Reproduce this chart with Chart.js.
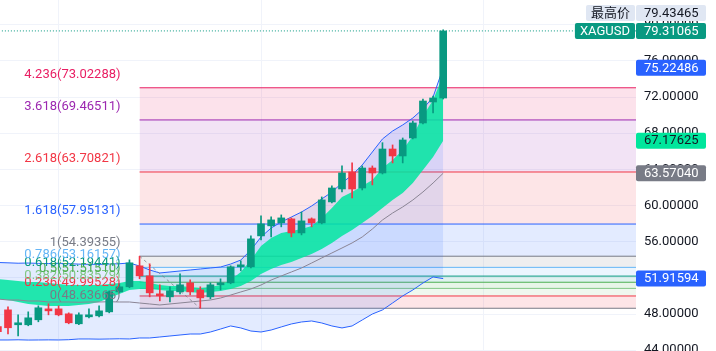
<!DOCTYPE html>
<html>
<head>
<meta charset="utf-8">
<script src="https://cdn.jsdelivr.net/npm/chart.js@4.4.0/dist/chart.umd.min.js"></script>
<style>
  html, body { margin: 0; padding: 0; background: #fff; }
</style>
</head>
<body>
<canvas id="xagChart" width="716" height="351"></canvas>
<script>
// candles, first one is only partly on screen (index -1)
const firstIndex = -1;
const opens  = [46.60, 48.46, 46.81, 46.81, 47.36, 48.57, 48.57, 48.02, 46.92, 47.69, 47.80, 48.24, 50.45, 51.01, 53.33, 52.22, 50.23, 49.90, 50.45, 51.45, 50.67, 49.90, 51.23, 51.45, 53.22, 53.22, 56.64, 57.75, 58.08, 58.52, 56.97, 58.52, 58.08, 60.40, 61.83, 63.71, 61.94, 64.15, 63.60, 66.25, 65.48, 67.47, 69.13, 71.45, 71.89];
const highs  = [46.90, 48.80, 47.91, 48.24, 48.91, 49.13, 48.91, 48.13, 48.13, 48.57, 48.91, 50.56, 51.34, 53.99, 54.39355, 53.55, 51.23, 51.01, 52.44, 51.78, 51.01, 51.45, 51.89, 53.33, 53.88, 56.64, 58.85, 58.74, 58.96, 58.63, 59.29, 58.63, 60.95, 62.17, 64.38, 64.71, 64.38, 64.38, 66.95, 66.70, 67.47, 69.35, 71.78, 72.10, 79.43465];
const lows   = [45.90, 45.81, 45.59, 46.70, 47.14, 47.91, 47.80, 46.92, 46.81, 47.58, 47.69, 48.13, 50.34, 50.90, 51.90, 49.90, 49.46, 49.35, 50.23, 50.12, 48.63665, 49.68, 50.67, 51.34, 52.77, 53.10, 56.20, 56.53, 57.64, 56.53, 56.75, 57.64, 57.97, 60.29, 61.50, 60.84, 61.72, 62.28, 63.49, 64.71, 64.71, 67.36, 69.02, 70.23, 71.78];
const closes = [46.05, 46.48, 47.03, 47.58, 48.69, 48.35, 47.91, 47.03, 47.91, 47.91, 48.35, 50.45, 51.01, 53.66, 52.22, 50.34, 50.01, 50.56, 51.23, 50.45, 49.79, 51.23, 51.45, 53.22, 53.44, 56.31, 57.97, 58.41, 58.63, 56.97, 58.30, 58.08, 60.62, 61.94, 63.60, 61.83, 64.15, 63.60, 66.25, 65.48, 67.25, 69.13, 71.56, 71.89, 79.31065];

// bollinger bands
const bbUpper  = [53.70, 53.66, 53.62, 53.64, 53.60, 53.58, 53.61, 53.57, 53.52, 53.50, 53.49, 53.53, 53.56, 53.64, 53.31, 52.87, 52.54, 52.65, 52.76, 52.87, 52.98, 53.09, 53.20, 53.53, 53.97, 55.08, 56.52, 57.51, 58.18, 58.73, 59.28, 59.95, 60.72, 61.49, 62.49, 63.38, 64.48, 65.92, 67.36, 68.24, 68.91, 69.68, 70.68, 72.00, 75.22486];
const bbMiddle = [49.66, 49.55, 49.55, 49.44, 49.44, 49.33, 49.33, 49.33, 49.30, 49.33, 49.33, 49.36, 49.33, 49.33, 49.22, 49.11, 49.00, 49.11, 49.22, 49.33, 49.44, 49.55, 49.77, 50.10, 50.44, 50.77, 51.21, 51.76, 52.21, 52.65, 53.09, 53.64, 54.20, 54.75, 55.30, 55.86, 56.52, 57.40, 58.40, 59.17, 59.84, 60.61, 61.50, 62.49, 63.57040];
const bbLower  = [45.13, 45.13, 45.15, 45.12, 45.13, 45.14, 45.13, 45.16, 45.24, 45.24, 45.22, 45.24, 45.26, 45.24, 45.35, 45.35, 45.46, 45.57, 45.68, 45.79, 45.79, 46.01, 46.34, 46.68, 46.46, 46.12, 46.01, 46.23, 46.57, 46.90, 47.12, 47.23, 47.01, 46.68, 46.46, 46.68, 47.34, 48.00, 48.45, 49.22, 50.00, 50.66, 51.43, 52.10, 51.91594];

// mint band (fast / slow)
const bandFast = [51.87, 51.76, 51.65, 51.54, 51.54, 51.43, 51.32, 51.21, 51.21, 51.21, 51.21, 51.32, 51.43, 51.65, 51.65, 51.43, 51.21, 51.10, 51.10, 50.99, 50.88, 50.99, 51.21, 51.76, 52.65, 53.97, 55.52, 56.41, 56.96, 57.18, 57.40, 57.74, 58.62, 59.73, 60.94, 61.49, 62.16, 62.82, 64.15, 65.03, 66.14, 67.69, 69.90, 71.67, 74.44];
const bandSlow = [49.66, 49.55, 49.33, 49.11, 49.00, 48.89, 48.89, 48.89, 49.00, 49.11, 49.33, 49.77, 50.21, 50.66, 50.77, 50.77, 50.66, 50.55, 50.55, 50.44, 50.33, 50.44, 50.55, 50.77, 51.10, 51.65, 52.43, 52.98, 53.42, 53.75, 54.20, 54.64, 55.19, 55.86, 56.63, 57.29, 58.07, 58.84, 59.73, 60.61, 61.38, 62.49, 63.93, 65.37, 67.17625];

// fibonacci
const fibFrom = 13, fibTo = 19;
const fibRatios = [0, 0.236, 0.382, 0.5, 0.618, 0.786, 1, 1.618, 2.618, 3.618, 4.236];
const fibPrices = [48.63665, 49.99528, 50.83579, 51.51510, 52.19441, 53.16157, 54.39355, 57.95131, 63.70821, 69.46511, 73.02288];
const fibColors = ['#787B86', '#F23645', '#81C784', '#4CAF50', '#089981', '#64B5F6', '#787B86', '#2962FF', '#F23645', '#9C27B0', '#E91E63'];

const yTicks = [44, 48, 52, 56, 60, 64, 68, 72, 76, 80];
const xGrid = [5, 25, 47];
const symbol = 'XAGUSD';
const highLabel = '最高价';

const xMin = -0.79, xMax = 62.05;
const up = '#089981', down = '#F23645';
const FONT = 'Roboto, "Noto Sans CJK SC", sans-serif';

const toRgba = (hex, a) => {
  const n = parseInt(hex.slice(1), 16);
  return `rgba(${n >> 16}, ${(n >> 8) & 255}, ${n & 255}, ${a})`;
};
const idx = opens.map((_, k) => firstIndex + k);
const series = arr => arr.map((v, k) => ({x: idx[k], y: v}));
const candleColors = opens.map((o, k) => closes[k] >= o ? up : down);
const last = closes[closes.length - 1];
const highest = Math.max(...highs);

const lineBase = {type: 'line', pointRadius: 0, borderWidth: 1, tension: 0, fill: false};
const hidden = {borderWidth: 0, borderColor: 'transparent'};

const datasets = [
  {type: 'bar', label: 'body', data: idx.map((x, k) => ({x, y: [opens[k], closes[k]]})),
   backgroundColor: candleColors, barThickness: 7, grouped: false, minBarLength: 1, order: 0},
  {type: 'bar', label: 'wick', data: idx.map((x, k) => ({x, y: [lows[k], highs[k]]})),
   backgroundColor: candleColors, barThickness: 1, grouped: false, order: 1},
  {...lineBase, label: 'last', data: [{x: xMin - 1, y: last}, {x: xMax + 5, y: last}],
   borderColor: up, borderDash: [1, 2], order: 2},
  {...lineBase, label: 'fibTrend', data: [{x: fibFrom, y: fibPrices[6]}, {x: fibTo, y: fibPrices[0]}],
   borderColor: 'rgba(120,123,134,0.75)', borderDash: [3, 3], order: 3},
  {...lineBase, label: 'bbUpper', data: series(bbUpper), borderColor: '#2962FF', order: 4},
  {...lineBase, label: 'bbMiddle', data: series(bbMiddle), borderColor: '#8A8494', order: 4},
  {...lineBase, label: 'bbLower', data: series(bbLower), borderColor: '#2962FF', order: 4},
  {...lineBase, ...hidden, label: 'fast', data: series(bandFast), order: 6},
  {...lineBase, ...hidden, label: 'slow', data: series(bandSlow), fill: '-1',
   backgroundColor: 'rgba(0,230,160,0.85)', order: 6},
  {...lineBase, ...hidden, label: 'bbBgUp', data: series(bbUpper), order: 7},
  {...lineBase, ...hidden, label: 'bbBgLow', data: series(bbLower), fill: '-1',
   backgroundColor: 'rgba(41,98,255,0.13)', order: 7}
];
fibPrices.forEach((p, i) => {
  datasets.push({...lineBase, label: 'fib ' + fibRatios[i],
    data: [{x: fibFrom, y: p}, {x: xMax + 5, y: p}],
    borderColor: fibColors[i], fill: i ? '-1' : false,
    backgroundColor: toRgba(fibColors[i], 0.13), order: 10});
});

function tag(ctx, yc, text, bg, fg, left, width, align) {
  ctx.fillStyle = bg;
  ctx.beginPath();
  ctx.roundRect(left, yc - 8, width, 16, 2);
  ctx.fill();
  ctx.fillStyle = fg;
  if (align === 'center') {
    ctx.textAlign = 'center';
    ctx.fillText(text, left + width / 2, yc + 0.5);
  } else {
    ctx.textAlign = 'left';
    ctx.fillText(text, left + 8, yc + 0.5);
  }
}

const overlay = {
  id: 'overlay',
  afterDatasetsDraw(chart) {
    const {ctx, scales: {x, y}} = chart;
    ctx.save();
    ctx.font = '13px ' + FONT;
    ctx.textAlign = 'right';
    ctx.textBaseline = 'middle';
    const right = x.getPixelForValue(fibFrom) - 19;
    fibRatios.forEach((r, i) => {
      ctx.fillStyle = fibColors[i];
      ctx.fillText(`${r}(${fibPrices[i].toFixed(5)})`, right, y.getPixelForValue(fibPrices[i]) - 13);
    });
    ctx.restore();
  },
  afterDraw(chart) {
    const {ctx, chartArea, scales: {y}} = chart;
    const axisLeft = chartArea.right;
    ctx.save();
    ctx.font = '13px ' + FONT;
    ctx.textBaseline = 'middle';
    const n = closes.length - 1;
    const pairs = [
      [bbUpper[n], '#2962FF', '#fff'],
      [bandSlow[n], '#00E69C', '#131722'],
      [bbMiddle[n], '#787B86', '#fff'],
      [bbLower[n], '#2962FF', '#fff']
    ];
    pairs.forEach(([v, bg, fg]) => tag(ctx, y.getPixelForValue(v), v.toFixed(5), bg, fg, axisLeft, 70));

    const yl = y.getPixelForValue(last);
    tag(ctx, yl, last.toFixed(5), up, '#fff', axisLeft, 70);
    const sw = ctx.measureText(symbol).width + 10;
    tag(ctx, yl, symbol, up, '#fff', axisLeft - 1 - sw, sw, 'center');

    const yh = yl - 18;
    tag(ctx, yh, highest.toFixed(5), '#E0E7F3', '#131722', axisLeft, 70);
    const hw = ctx.measureText(highLabel).width + 10;
    tag(ctx, yh, highLabel, '#E0E7F3', '#131722', axisLeft - 1 - hw, hw, 'center');
    ctx.restore();
  }
};

Chart.defaults.font.family = FONT;
Chart.defaults.font.size = 13;
Chart.defaults.color = '#131722';

new Chart(document.getElementById('xagChart'), {
  type: 'bar',
  data: {datasets},
  options: {
    responsive: false,
    devicePixelRatio: 1,
    animation: false,
    layout: {padding: 0},
    plugins: {legend: {display: false}, tooltip: {enabled: false}},
    scales: {
      x: {
        type: 'linear', min: xMin, max: xMax, offset: false,
        grid: {color: '#F0F3FA', drawTicks: false, offset: false},
        border: {display: false},
        ticks: {display: false},
        afterBuildTicks: s => { s.ticks = xGrid.map(v => ({value: v})); },
        afterFit: s => { s.height = 0; s.paddingLeft = 0; s.paddingRight = 0; }
      },
      y: {
        position: 'right', min: 43.91, max: 82.73,
        grid: {color: '#F0F3FA', drawTicks: false},
        border: {display: false},
        ticks: {padding: 8, callback: v => v.toFixed(5)},
        afterBuildTicks: s => { s.ticks = yTicks.map(v => ({value: v})); },
        afterFit: s => { s.width = 80; s.paddingTop = 0; s.paddingBottom = 0; }
      }
    }
  },
  plugins: [overlay]
});
</script>
</body>
</html>
